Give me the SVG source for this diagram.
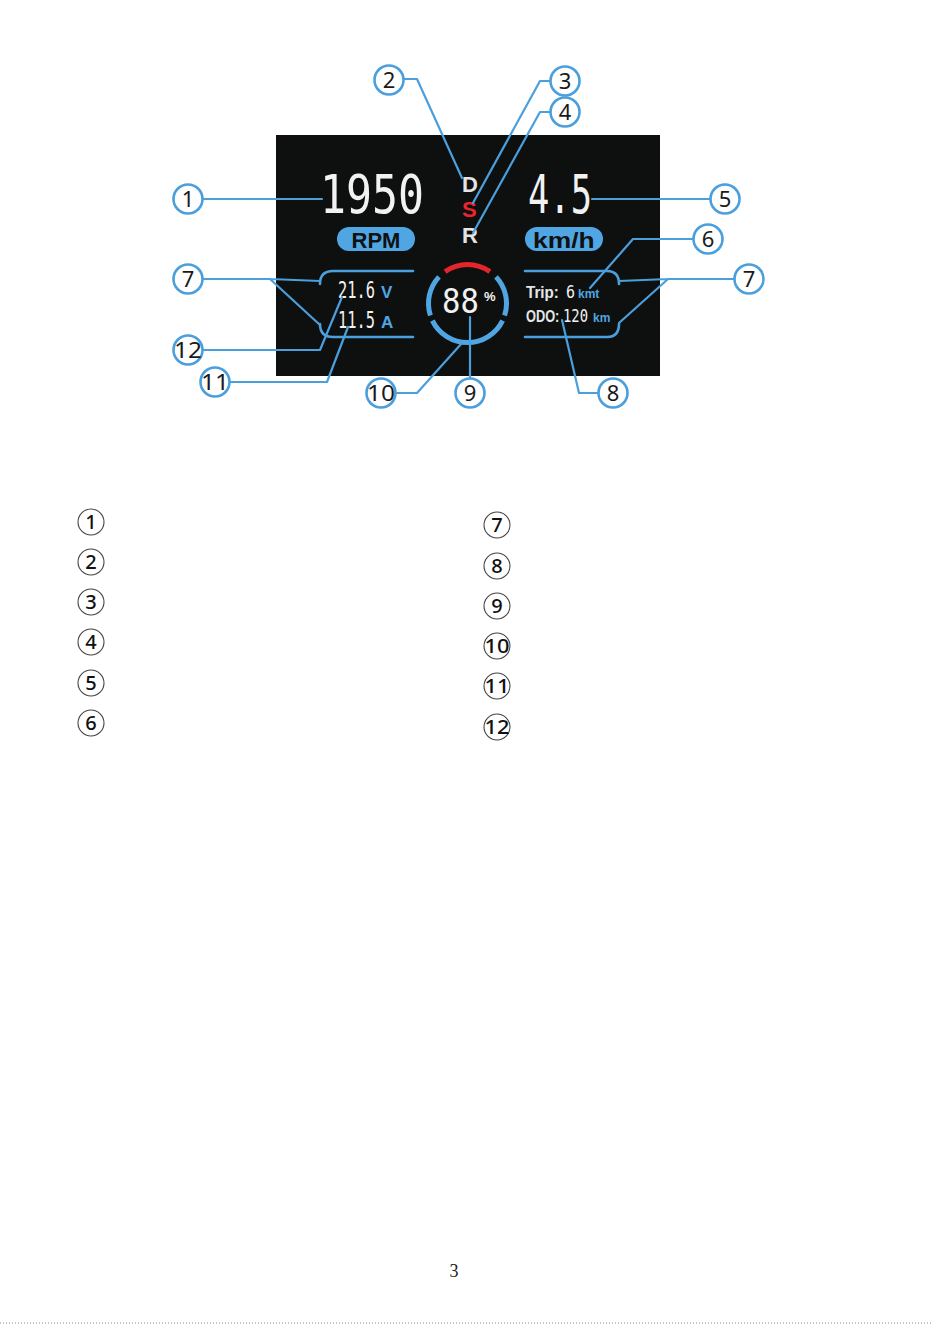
<svg xmlns="http://www.w3.org/2000/svg" width="933" height="1324" viewBox="0 0 933 1324">
<style>
.ln{fill:none;stroke:#4a9fdc;stroke-width:2.2;stroke-linejoin:round;stroke-linecap:round}
.br{fill:none;stroke:#4a9fdc;stroke-width:2.6;stroke-linecap:round}
.cc{fill:#fff;stroke:#4a9fdc;stroke-width:2.6}
.cn{font-family:"Noto Sans","Liberation Sans",sans-serif;font-size:22px;fill:#1a1a1a;text-anchor:middle}
.lc{fill:#fff;stroke:#444;stroke-width:1.1}
.ln2{font-family:"Noto Sans","Liberation Sans",sans-serif;font-size:20px;font-weight:500;fill:#111;text-anchor:middle}
.seg{font-family:"DejaVu Sans Mono","Liberation Mono",monospace;fill:#f2f2f2}
.lab{font-family:"Liberation Sans","Noto Sans",sans-serif;font-weight:bold}
.ring{fill:none;stroke-width:5}
</style>
<rect x="0" y="0" width="933" height="1324" fill="#fff"/>
<g id="display">
<rect x="276" y="135" width="384" height="241" fill="#0e1010"/>
<text class="seg" transform="translate(320 213) scale(0.8 1)" font-size="54">1950</text>
<rect x="337" y="227" width="78" height="24" rx="12" fill="#4fa6e2"/>
<text class="lab" x="376" y="248" font-size="22" fill="#111" text-anchor="middle">RPM</text>
<text class="lab" x="462" y="192" font-size="22" fill="#e4e4e4">D</text>
<text class="lab" x="462" y="217" font-size="22" fill="#e8262c">S</text>
<text class="lab" x="462" y="243" font-size="22" fill="#e4e4e4">R</text>
<text class="seg" transform="translate(528 213) scale(0.656 1)" font-size="54">4.5</text>
<rect x="525" y="227" width="78" height="24" rx="12" fill="#4fa6e2"/>
<text class="lab" transform="translate(533 248) scale(1.2 1)" font-size="22" fill="#111">km/h</text>
<path class="br" d="M413 271 L333 271 Q320 271 320 284"/>
<path class="br" d="M413 337 L333 337 Q320 337 320 324"/>
<path class="br" d="M525 271 L607 271 Q619 271 619 284"/>
<path class="br" d="M525 337 L607 337 Q619 337 619 324"/>
<text class="seg" transform="translate(338 298) scale(0.668 1)" font-size="23">21.6</text>
<text class="lab" x="381" y="298" font-size="17" fill="#4fa6e2">V</text>
<text class="seg" transform="translate(338 328) scale(0.668 1)" font-size="23">11.5</text>
<text class="lab" x="381" y="328" font-size="17" fill="#4fa6e2">A</text>
<path class="ring" stroke="#e4262c" d="M445.1 271.6 A39 39 0 0 1 489.9 271.6"/>
<path class="ring" stroke="#4fa6e2" d="M496 276.9 A39 39 0 0 1 504.6 315.6"/>
<path class="ring" stroke="#4fa6e2" d="M502.6 320.6 A39 39 0 0 1 432.4 320.6"/>
<path class="ring" stroke="#4fa6e2" d="M430.4 315.6 A39 39 0 0 1 439 276.9"/>
<text class="seg" transform="translate(442 313) scale(0.9 1)" font-size="34">88</text>
<text class="lab" x="484" y="301" font-size="13" fill="#f2f2f2">%</text>
<text class="lab" transform="translate(526 298) scale(0.95 1)" font-size="16" fill="#e6e6e6">Trip:</text>
<text class="seg" transform="translate(566 298) scale(0.83 1)" font-size="18">6</text>
<text class="lab" x="578" y="298" font-size="12" fill="#4fa6e2" font-weight="normal">kmt</text>
<text class="lab" transform="translate(526 322) scale(0.8 1)" font-size="16" fill="#e6e6e6">ODO:</text>
<text class="seg" transform="translate(563 322) scale(0.77 1)" font-size="18">120</text>
<text class="lab" x="593" y="322" font-size="12" fill="#4fa6e2" font-weight="normal">km</text>
</g>
<g id="connectors">
<path class="ln" d="M202 199 L322 199"/>
<path class="ln" d="M404 79 L417 79 L462 178"/>
<path class="ln" d="M551 81 L540 81 L473 203"/>
<path class="ln" d="M551 112 L540 112 L473 233"/>
<path class="ln" d="M592 199 L711 199"/>
<path class="ln" d="M694 239 L633 239 L590 288"/>
<path class="ln" d="M202 279 L270 279 L320 281 M270 279 L320 325"/>
<path class="ln" d="M735 279 L668 279 L619 281 M668 279 L619 323"/>
<path class="ln" d="M202 350 L320 350 L342 297"/>
<path class="ln" d="M229 382 L327 382 L348 327"/>
<path class="ln" d="M395 393 L417 393 L462 343"/>
<path class="ln" d="M470 379 L470 317"/>
<path class="ln" d="M599 393 L579 393 L562 320"/>
</g>
<g id="c1"><circle class="cc" cx="188" cy="199" r="14.5"/><text class="cn" x="188" y="207">1</text></g>
<g id="c2"><circle class="cc" cx="389" cy="80" r="14.5"/><text class="cn" x="389" y="88">2</text></g>
<g id="c3"><circle class="cc" cx="565" cy="81" r="14.5"/><text class="cn" x="565" y="89">3</text></g>
<g id="c4"><circle class="cc" cx="565" cy="112" r="14.5"/><text class="cn" x="565" y="120">4</text></g>
<g id="c5"><circle class="cc" cx="725" cy="199" r="14.5"/><text class="cn" x="725" y="207">5</text></g>
<g id="c6"><circle class="cc" cx="708" cy="239" r="14.5"/><text class="cn" x="708" y="247">6</text></g>
<g id="c7l"><circle class="cc" cx="188" cy="279" r="14.5"/><text class="cn" x="188" y="287">7</text></g>
<g id="c7r"><circle class="cc" cx="749" cy="279" r="14.5"/><text class="cn" x="749" y="287">7</text></g>
<g id="c12"><circle class="cc" cx="188" cy="350" r="14.5"/><text class="cn" x="188" y="358" textLength="28" lengthAdjust="spacingAndGlyphs">12</text></g>
<g id="c11"><circle class="cc" cx="215" cy="382" r="14.5"/><text class="cn" x="215" y="390" textLength="28" lengthAdjust="spacingAndGlyphs">11</text></g>
<g id="c10"><circle class="cc" cx="381" cy="393" r="14.5"/><text class="cn" x="381" y="401" textLength="28" lengthAdjust="spacingAndGlyphs">10</text></g>
<g id="c9"><circle class="cc" cx="470" cy="393" r="14.5"/><text class="cn" x="470" y="401">9</text></g>
<g id="c8"><circle class="cc" cx="613" cy="393" r="14.5"/><text class="cn" x="613" y="401">8</text></g>
<g id="legend">
<g id="l1"><circle class="lc" cx="91" cy="522" r="13"/><text class="ln2" x="91" y="529">1</text></g>
<g id="l2"><circle class="lc" cx="91" cy="562" r="13"/><text class="ln2" x="91" y="569">2</text></g>
<g id="l3"><circle class="lc" cx="91" cy="602" r="13"/><text class="ln2" x="91" y="609">3</text></g>
<g id="l4"><circle class="lc" cx="91" cy="642" r="13"/><text class="ln2" x="91" y="649">4</text></g>
<g id="l5"><circle class="lc" cx="91" cy="683" r="13"/><text class="ln2" x="91" y="690">5</text></g>
<g id="l6"><circle class="lc" cx="91" cy="723" r="13"/><text class="ln2" x="91" y="730">6</text></g>
<g id="l7"><circle class="lc" cx="497" cy="525" r="13"/><text class="ln2" x="497" y="532">7</text></g>
<g id="l8"><circle class="lc" cx="497" cy="566" r="13"/><text class="ln2" x="497" y="573">8</text></g>
<g id="l9"><circle class="lc" cx="497" cy="606" r="13"/><text class="ln2" x="497" y="613">9</text></g>
<g id="l10"><circle class="lc" cx="497" cy="646" r="13"/><text class="ln2" x="497" y="653" textLength="25" lengthAdjust="spacingAndGlyphs">10</text></g>
<g id="l11"><circle class="lc" cx="497" cy="686" r="13"/><text class="ln2" x="497" y="693" textLength="25" lengthAdjust="spacingAndGlyphs">11</text></g>
<g id="l12"><circle class="lc" cx="497" cy="727" r="13"/><text class="ln2" x="497" y="734" textLength="25" lengthAdjust="spacingAndGlyphs">12</text></g>
</g>
<text x="454" y="1277" font-family="Liberation Serif,serif" font-size="18" fill="#222" text-anchor="middle">3</text>
<line x1="0" y1="1323" x2="933" y2="1323" stroke="#888" stroke-width="1" stroke-dasharray="1 2"/>
</svg>
